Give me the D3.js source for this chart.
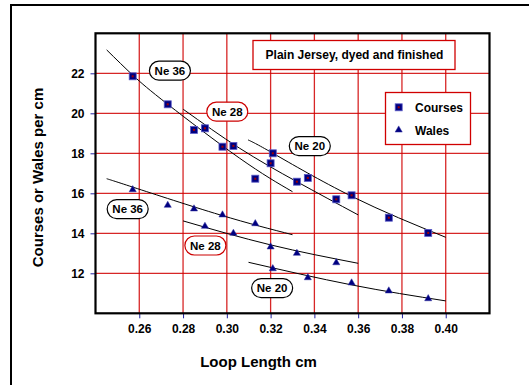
<!DOCTYPE html>
<html>
<head>
<meta charset="utf-8">
<script src="https://cdn.jsdelivr.net/npm/d3@7"></script>
<style>
  html, body { margin: 0; padding: 0; background: #fff; }
  svg { display: block; }
  text { font-family: "Liberation Sans", Arial, Helvetica, sans-serif; font-weight: bold; fill: #000; }
</style>
</head>
<body>
<svg id="chart" width="529" height="385"></svg>
<script>
// ---- data ----
const loopLength = [0.257, 0.273, 0.285, 0.290, 0.298, 0.303, 0.313, 0.320, 0.321, 0.332, 0.337, 0.350, 0.357, 0.374, 0.392];
const courses    = [21.85, 20.45, 19.17, 19.25, 18.33, 18.37, 16.73, 17.50, 18.00, 16.58, 16.77, 15.70, 15.90, 14.78, 14.02];
const wales      = [16.18, 15.40, 15.22, 14.35, 14.92, 14.00, 14.48, 13.32, 12.23, 13.00, 11.78, 12.53, 11.52, 11.12, 10.73];

const xTicks = [0.26, 0.28, 0.30, 0.32, 0.34, 0.36, 0.38, 0.40];
const yTicks = [12, 14, 16, 18, 20, 22];

// fitted trend curves (anchor points)
const fitCoursesNe36 = [[0.2451, 23.17], [0.2573, 21.88], [0.2730, 20.45], [0.3059, 17.75], [0.3300, 16.08]];
const fitCoursesNe28 = [[0.2801, 20.20], [0.3059, 18.25], [0.3320, 16.58], [0.3600, 14.92]];
const fitCoursesNe20 = [[0.3097, 18.67], [0.3211, 18.00], [0.3570, 15.85], [0.4000, 13.80]];
const fitWalesNe36   = [[0.2451, 16.73], [0.2573, 16.30], [0.2969, 14.92], [0.3300, 13.93]];
const fitWalesNe28   = [[0.2800, 14.62], [0.3200, 13.42], [0.3600, 12.50]];
const fitWalesNe20   = [[0.3099, 12.55], [0.3570, 11.42], [0.4000, 10.62]];

// yarn count labels: [text, loop length, value, border colour]
const labelText  = ["Ne 36", "Ne 28", "Ne 20", "Ne 36", "Ne 28", "Ne 20"];
const labelX     = [0.2740, 0.3002, 0.3379, 0.2547, 0.2902, 0.3207];
const labelY     = [22.13, 20.08, 18.36, 15.21, 13.39, 11.26];
const labelColor = ["#000", "#cc0000", "#000", "#000", "#cc0000", "#000"];

const titleText = "Plain Jersey, dyed and finished";
const legendNames = ["Courses", "Wales"];
const xTitle = "Loop Length cm";
const yTitle = "Courses or Wales per cm";

// ---- drawing ----
const svg = d3.select("#chart");
const L = 95.5, R = 489.5, T = 33.3, B = 313.3;
const x = d3.scaleLinear().domain([0.24, 0.42]).range([L, R]);
const y = d3.scaleLinear().domain([10, 24]).range([B, T]);

const RED = "#d00000";
const NAVY = "#000080";

// outer frame
svg.append("rect").attr("x", 11).attr("y", 5).attr("width", 560).attr("height", 420)
  .attr("fill", "none").attr("stroke", "#000").attr("stroke-width", 2);

// grid lines
svg.append("g").selectAll("line").data(xTicks).join("line")
  .attr("x1", d => x(d)).attr("x2", d => x(d)).attr("y1", T).attr("y2", B)
  .attr("stroke", RED).attr("stroke-width", 1.3).attr("stroke-opacity", 0.85);
svg.append("g").selectAll("line").data(yTicks).join("line")
  .attr("x1", L).attr("x2", R).attr("y1", d => y(d)).attr("y2", d => y(d))
  .attr("stroke", RED).attr("stroke-width", 1.3).attr("stroke-opacity", 0.85);

// axes
const xAxis = svg.append("g").attr("transform", `translate(0,${B})`)
  .call(d3.axisBottom(x).tickValues(xTicks).tickSize(5).tickPadding(6).tickFormat(d3.format(".2f")));
const yAxis = svg.append("g").attr("transform", `translate(${L},0)`)
  .call(d3.axisLeft(y).tickValues(yTicks).tickSize(5).tickPadding(6).tickFormat(d3.format("d")));
[xAxis, yAxis].forEach(g => {
  g.select(".domain").remove();
  g.selectAll(".tick line").attr("stroke", "#2020a0").attr("stroke-width", 1);
  g.selectAll(".tick text").attr("font-size", 12).attr("font-weight", "bold")
    .attr("font-family", "'Liberation Sans', Arial, sans-serif").attr("fill", "#000");
});

// plot frame
svg.append("rect").attr("x", L).attr("y", T).attr("width", R - L).attr("height", B - T)
  .attr("fill", "none").attr("stroke", "#000").attr("stroke-width", 2.2);

// title box
svg.append("rect").attr("x", 253).attr("y", 40.5).attr("width", 202).attr("height", 29)
  .attr("fill", "#fff").attr("stroke", RED).attr("stroke-width", 1.3);
svg.append("text").attr("x", 354.5).attr("y", 58.5).attr("text-anchor", "middle")
  .attr("font-size", 12).text(titleText);

// legend
svg.append("rect").attr("x", 385.5).attr("y", 92.5).attr("width", 85).attr("height", 52)
  .attr("fill", "#fff").attr("stroke", RED).attr("stroke-width", 1.3);

// fit curves
const line = d3.line().x(d => x(d[0])).y(d => y(d[1])).curve(d3.curveNatural);
[fitCoursesNe36, fitCoursesNe28, fitCoursesNe20, fitWalesNe36, fitWalesNe28, fitWalesNe20].forEach(f => {
  svg.append("path").attr("d", line(f)).attr("fill", "none").attr("stroke", "#000").attr("stroke-width", 1);
});

// yarn count labels
const lab = svg.append("g").selectAll("g").data(labelText).join("g")
  .attr("transform", (d, i) => `translate(${x(labelX[i])},${y(labelY[i])})`);
lab.append("rect").attr("x", -20.5).attr("y", -9.5).attr("width", 41).attr("height", 19)
  .attr("rx", 9.5).attr("ry", 9.5).attr("fill", "#fff")
  .attr("stroke", (d, i) => labelColor[i]).attr("stroke-width", 1.2);
lab.append("text").attr("text-anchor", "middle").attr("y", 4).attr("font-size", 11.5).text(d => d);

// markers
function square(sel, cx, cy) {
  sel.append("rect").attr("x", cx - 3.5).attr("y", cy - 3.5).attr("width", 7).attr("height", 7)
    .attr("fill", NAVY).attr("stroke", "#5a5ac8").attr("stroke-width", 0.8);
  sel.append("rect").attr("x", cx - 1).attr("y", cy - 1).attr("width", 2).attr("height", 2)
    .attr("fill", "#a00000");
}
const tri = d3.symbol().type(d3.symbolTriangle).size(22);
function triangle(sel, cx, cy) {
  sel.append("path").attr("d", tri()).attr("transform", `translate(${cx},${cy})`)
    .attr("fill", NAVY).attr("stroke", "#3030a0").attr("stroke-width", 0.5);
}
const mk = svg.append("g");
loopLength.forEach((l, i) => square(mk, x(l), y(courses[i])));
loopLength.forEach((l, i) => triangle(mk, x(l), y(wales[i])));

// legend entries
square(svg, 398.7, 107.3);
triangle(svg, 398.7, 130);
svg.append("text").attr("x", 415).attr("y", 111.5).attr("font-size", 12).text(legendNames[0]);
svg.append("text").attr("x", 415).attr("y", 134.5).attr("font-size", 12).text(legendNames[1]);

// axis titles
svg.append("text").attr("x", 258.5).attr("y", 366.5).attr("text-anchor", "middle")
  .attr("font-size", 15).text(xTitle);
svg.append("text").attr("transform", "translate(42.5,177.5) rotate(-90)").attr("text-anchor", "middle")
  .attr("font-size", 15).text(yTitle);
</script>
</body>
</html>
